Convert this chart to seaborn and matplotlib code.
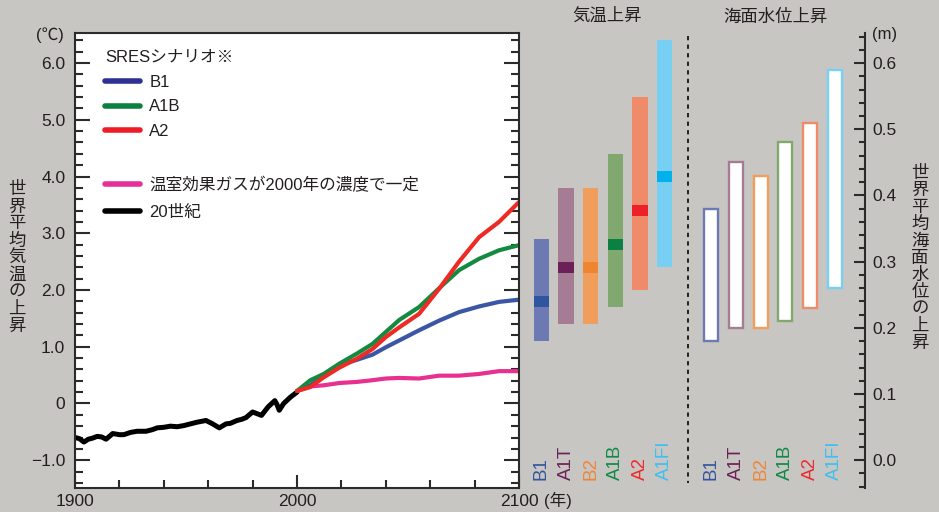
import numpy as np
import pandas as pd
import matplotlib.pyplot as plt
from matplotlib.lines import Line2D
from matplotlib.ticker import MultipleLocator, FuncFormatter
import seaborn as sns

sns.set_style("ticks")
plt.rcParams['font.family'] = ['Liberation Sans', 'Noto Sans CJK JP', 'DejaVu Sans']
plt.rcParams['text.color'] = '#231f20'
plt.rcParams['axes.unicode_minus'] = True

# --- data ---
years_20c = [1900, 1902, 1904, 1906, 1908, 1910, 1912, 1914, 1917, 1920, 1922, 1925,
             1928, 1932, 1935, 1937, 1940, 1943, 1946, 1949, 1952, 1955, 1959, 1962,
             1965, 1968, 1970, 1973, 1975, 1977, 1980, 1982, 1984, 1987, 1990, 1991,
             1992, 1994, 1997, 2000]
temp_20c = [-0.60, -0.62, -0.68, -0.63, -0.61, -0.58, -0.59, -0.63, -0.53, -0.55, -0.55, -0.51,
            -0.49, -0.49, -0.46, -0.43, -0.42, -0.40, -0.41, -0.39, -0.36, -0.33, -0.30, -0.36,
            -0.43, -0.36, -0.35, -0.30, -0.28, -0.25, -0.15, -0.18, -0.21, -0.06, 0.05, -0.02,
            -0.12, 0.00, 0.11, 0.20]

years_sres = [2000, 2006, 2012, 2019, 2027, 2034, 2040, 2046, 2055, 2064, 2073, 2082, 2091, 2100]
temp_b1 = [0.22, 0.32, 0.49, 0.67, 0.77, 0.86, 0.99, 1.11, 1.29, 1.46, 1.61, 1.71, 1.79, 1.83]
temp_a1b = [0.22, 0.41, 0.52, 0.70, 0.88, 1.05, 1.26, 1.47, 1.70, 2.03, 2.35, 2.55, 2.70, 2.79]
temp_a2 = [0.22, 0.29, 0.46, 0.63, 0.79, 0.96, 1.17, 1.34, 1.58, 2.02, 2.50, 2.93, 3.20, 3.55]
temp_const = [0.22, 0.30, 0.32, 0.36, 0.38, 0.41, 0.44, 0.45, 0.44, 0.49, 0.49, 0.52, 0.57, 0.57]

scenarios = ['B1', 'A1T', 'B2', 'A1B', 'A2', 'A1FI']
temp_low = [1.1, 1.4, 1.4, 1.7, 2.0, 2.4]
temp_best = [1.8, 2.4, 2.4, 2.8, 3.4, 4.0]
temp_high = [2.9, 3.8, 3.8, 4.4, 5.4, 6.4]
sea_low = [0.18, 0.20, 0.20, 0.21, 0.23, 0.26]
sea_high = [0.38, 0.45, 0.43, 0.48, 0.51, 0.59]

# --- colours ---
bg = '#c8c6c2'
label_colors = ['#34559f', '#6b2158', '#ef8536', '#0e8a45', '#ee2a2d', '#3dbff0']
light_colors = ['#6d79b2', '#a57c94', '#f19e5c', '#80a86f', '#ef8b69', '#77d0f4']
dark_colors = ['#2f559e', '#6b2158', '#ef8530', '#0b8043', '#ee2029', '#00b1eb']
line_palette = {'20世紀': 'black', '一定': '#e8318f', 'B1': '#3a56a5',
                'A1B': '#138a3f', 'A2': '#ee2a24'}
cjk = ['Noto Sans CJK JP', 'DejaVu Sans']

df_20c = pd.DataFrame({'year': years_20c, 'temp': temp_20c, 'series': '20世紀'})
df_sres = pd.concat([
    pd.DataFrame({'year': years_sres, 'temp': temp_const, 'series': '一定'}),
    pd.DataFrame({'year': years_sres, 'temp': temp_b1, 'series': 'B1'}),
    pd.DataFrame({'year': years_sres, 'temp': temp_a1b, 'series': 'A1B'}),
    pd.DataFrame({'year': years_sres, 'temp': temp_a2, 'series': 'A2'}),
])

W, H = 939, 512
fig = plt.figure(figsize=(W / 100, H / 100), dpi=100, facecolor=bg)

t_lim = (-1.49, 6.53)
s_lim = ((t_lim[0] + 1) * 0.6 / 7, (t_lim[1] + 1) * 0.6 / 7)
ax_bottom = 1 - 488 / H
ax_height = 455 / H

# --- left: time series ---
ax = fig.add_axes([75 / W, ax_bottom, 444 / W, ax_height])
ax.set_facecolor('white')
sns.lineplot(data=df_20c, x='year', y='temp', hue='series', palette=line_palette,
             estimator=None, linewidth=3.6, legend=False, ax=ax)
sns.lineplot(data=df_sres, x='year', y='temp', hue='series', palette=line_palette,
             hue_order=['一定', 'B1', 'A1B', 'A2'], estimator=None, linewidth=3.0,
             legend=False, ax=ax)
ax.set_xlim(1900, 2100)
ax.set_ylim(*t_lim)
ax.set_xlabel('')
ax.set_ylabel('')
ax.set_xticks([1900, 2000, 2100])
ax.xaxis.set_minor_locator(MultipleLocator(20))
ax.yaxis.set_major_locator(MultipleLocator(1))
ax.yaxis.set_minor_locator(MultipleLocator(0.2))
ax.yaxis.set_major_formatter(FuncFormatter(
    lambda v, p: '0' if abs(v) < 1e-9 else f'{v:.1f}'.replace('-', '\u2212')))
for s in ax.spines.values():
    s.set_color('#2b2b2b')
    s.set_linewidth(1.5)
ax.tick_params(axis='y', which='major', direction='in', length=11, width=1.5,
               left=True, right=True, labelsize=12.5, pad=7, colors='#2b2b2b',
               labelcolor='#231f20')
ax.tick_params(axis='y', which='minor', direction='in', length=5.5, width=1.5,
               left=True, right=True, colors='#2b2b2b')
ax.tick_params(axis='x', which='major', direction='in', length=9.5, width=1.5,
               labelsize=12.5, pad=4, colors='#2b2b2b', labelcolor='#231f20')
ax.tick_params(axis='x', which='minor', direction='in', length=6, width=1.5,
               colors='#2b2b2b')

leg1 = ax.legend(handles=[Line2D([], [], color='#2e3192', lw=4, label='B1'),
                          Line2D([], [], color='#0c8040', lw=4, label='A1B'),
                          Line2D([], [], color='#ee1c24', lw=4, label='A2')],
                 title='SRESシナリオ※', loc='upper left',
                 bbox_to_anchor=(105 / W, 1 - 50 / H), bbox_transform=fig.transFigure,
                 frameon=False, fontsize=12, title_fontsize=12, alignment='left',
                 handlelength=2.1, handletextpad=0.55, labelspacing=0.58,
                 borderpad=0, borderaxespad=0)
ax.add_artist(leg1)
ax.legend(handles=[Line2D([], [], color='#e5309a', lw=4, label='温室効果ガスが2000年の濃度で一定'),
                   Line2D([], [], color='black', lw=4, label='20世紀')],
          loc='upper left', bbox_to_anchor=(105 / W, 1 - 177 / H),
          bbox_transform=fig.transFigure, frameon=False, fontsize=12,
          handlelength=2.1, handletextpad=0.55, labelspacing=0.72,
          borderpad=0, borderaxespad=0)

# --- middle: temperature ranges ---
x = np.arange(len(scenarios))
ax_t = fig.add_axes([529 / W, ax_bottom, 148 / W, ax_height])
ax_t.set_facecolor('none')
ax_t.bar(x, np.array(temp_high) - np.array(temp_low), bottom=temp_low, width=0.61,
         color=light_colors, linewidth=0)
ax_t.bar(x, 0.19, bottom=np.array(temp_best) - 0.095, width=0.61, color=dark_colors,
         linewidth=0)
ax_t.set_xlim(-0.5, 5.5)
ax_t.set_ylim(*t_lim)
ax_t.axis('off')
for i, name in enumerate(scenarios):
    ax_t.text(i, 8 / 455, name, transform=ax_t.get_xaxis_transform(), rotation=90,
              ha='center', va='bottom', fontsize=13.5, color=label_colors[i])

# --- right: sea level ranges ---
ax_s = fig.add_axes([699 / W, ax_bottom, 166 / W, ax_height])
ax_s.set_facecolor('none')
ax_s.bar(x, np.array(sea_high) - np.array(sea_low), bottom=sea_low, width=0.57,
         color='white', edgecolor=light_colors, linewidth=1.7)
ax_s.set_xlim(-0.5, 166 / 24.67 - 0.5)
ax_s.set_ylim(*s_lim)
for side in ['left', 'top', 'bottom']:
    ax_s.spines[side].set_visible(False)
ax_s.spines['right'].set_color('#2b2b2b')
ax_s.spines['right'].set_linewidth(1.5)
ax_s.set_xticks([])
ax_s.yaxis.tick_right()
ax_s.yaxis.set_major_locator(MultipleLocator(0.1))
ax_s.yaxis.set_minor_locator(MultipleLocator(0.02))
ax_s.yaxis.set_major_formatter(FuncFormatter(lambda v, p: f'{abs(v):.1f}'))
ax_s.tick_params(axis='y', which='major', direction='in', length=8, width=1.5,
                 left=False, right=True, labelsize=12.5, pad=5, colors='#2b2b2b',
                 labelcolor='#231f20')
ax_s.tick_params(axis='y', which='minor', direction='in', length=4, width=1.5,
                 left=False, right=True, colors='#2b2b2b')
for i, name in enumerate(scenarios):
    ax_s.text(i, 8 / 455, name, transform=ax_s.get_xaxis_transform(), rotation=90,
              ha='center', va='bottom', fontsize=13.5, color=label_colors[i])

# dashed separator
fig.add_artist(Line2D([688 / W, 688 / W], [1 - 36 / H, 1 - 483 / H],
                      transform=fig.transFigure, color='#231f20', lw=1.4,
                      linestyle=(0, (2.2, 2.2))))

# --- texts ---
fig.text(607 / W, 1 - 16 / H, '気温上昇', ha='center', va='center', fontsize=12.5,
         family=cjk)
fig.text(775 / W, 1 - 17 / H, '海面水位上昇', ha='center', va='center', fontsize=12.5,
         family=cjk)
fig.text(50 / W, 1 - 35 / H, '(℃)', ha='center', va='center', fontsize=12)
fig.text(885 / W, 1 - 35 / H, '(m)', ha='center', va='center', fontsize=12)
fig.text(544 / W, 1 - 500 / H, '(年)', ha='left', va='center', fontsize=12)
fig.text(17 / W, 1 - 257.5 / H, '\n'.join('世界平均気温の上昇'), ha='center',
         va='center', fontsize=12.5, linespacing=0.93, family=cjk)
fig.text(920 / W, 1 - 258 / H, '\n'.join('世界平均海面水位の上昇'), ha='center',
         va='center', fontsize=12.5, linespacing=0.93, family=cjk)

fig.savefig('out.png', dpi=100, facecolor=fig.get_facecolor())
